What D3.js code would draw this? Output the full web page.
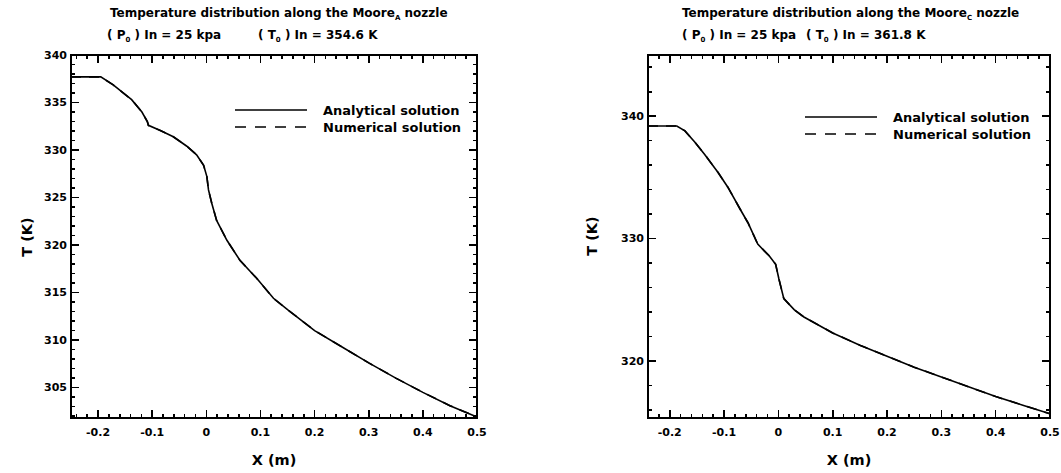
<!DOCTYPE html>
<html lang="en">
<head>
<meta charset="UTF-8">
<title>Temperature distribution along the Moore nozzles</title>
<script src="https://cdnjs.cloudflare.com/ajax/libs/d3/7.8.5/d3.min.js"></script>
<style>
  body { margin: 0; background: #fff; }
  svg { font-family: "DejaVu Sans", Arial, sans-serif; }
  text { font-weight: bold; fill: #000; }
  .ticklabel { font-size: 11px; }
  .title { font-size: 12px; }
  .sub { font-size: 12px; }
  .axis-label { font-size: 14.5px; }
  .legend text { font-size: 13px; }
  .tick-mark { stroke: #000; stroke-width: 1.6px; shape-rendering: crispEdges; }
</style>
</head>
<body>
<div id="chart"></div>
<script>
// tick labels
const xTicks = [-0.2, -0.1, 0, 0.1, 0.2, 0.3, 0.4, 0.5];
const yTicksA = [305, 310, 315, 320, 325, 330, 335, 340];
const yTicksB = [320, 330, 340];

// Moore A nozzle, analytical solution
const xA = [-0.25, -0.195, -0.172, -0.138, -0.119, -0.109, -0.107, -0.085, -0.061, -0.036,
            -0.018, -0.005, 0.001, 0.004, 0.010, 0.019, 0.038, 0.062, 0.093, 0.124,
            0.15, 0.2, 0.25, 0.3, 0.35, 0.4, 0.45, 0.5];
const tA = [337.7, 337.7, 336.85, 335.3, 334.0, 333.0, 332.6, 332.05, 331.4, 330.4,
            329.5, 328.4, 327.2, 325.8, 324.4, 322.6, 320.5, 318.4, 316.5, 314.4,
            313.2, 311.0, 309.3, 307.6, 306.0, 304.5, 303.1, 301.9];

// second nozzle, analytical solution
const xB = [-0.24, -0.187, -0.172, -0.154, -0.136, -0.111, -0.093, -0.069, -0.056, -0.038,
            -0.017, -0.005, 0.001, 0.010, 0.029, 0.047, 0.1, 0.15, 0.2, 0.25,
            0.3, 0.35, 0.4, 0.45, 0.5];
const tB = [339.2, 339.2, 338.8, 337.9, 336.9, 335.4, 334.2, 332.3, 331.3, 329.55,
            328.6, 327.9, 326.7, 325.1, 324.2, 323.6, 322.3, 321.3, 320.4, 319.5,
            318.7, 317.9, 317.1, 316.4, 315.7];

// numerical solution lies on top of the analytical curve in both plots
const xNumA = xA, tNumA = tA;
const xNumB = xB, tNumB = tB;

const seriesNames = ["Analytical solution", "Numerical solution"];

const svg = d3.select("#chart").append("svg")
    .attr("width", 1061)
    .attr("height", 473);

const fmt = d => d === 0 ? "0" : d3.format(".1f")(d).replace("\u2212", "-");

function drawPanel(p) {
    const g = svg.append("g");
    const x = d3.scaleLinear().domain(p.xDomain).range([p.left, p.right]);
    const y = d3.scaleLinear().domain(p.yDomain).range([p.bottom, p.top]);

    const eps = 1e-9;
    const xMinor = d3.range(-0.24, 0.5 + eps, 0.02).map(v => +v.toFixed(2))
        .filter(v => v >= p.xDomain[0] - eps && !xTicks.some(t => Math.abs(t - v) < eps));
    const yMinor = d3.range(Math.ceil(p.yDomain[0]), p.yDomain[1] + eps, p.yMinorStep)
        .filter(v => !p.yTicks.includes(v));

    // frame
    g.append("rect")
        .attr("x", p.left).attr("y", p.top)
        .attr("width", p.right - p.left).attr("height", p.bottom - p.top)
        .attr("fill", "none").attr("stroke", "#000").attr("stroke-width", 2);

    // inward ticks on all four sides
    const xt = xTicks.map(v => ({v, len: 8})).concat(xMinor.map(v => ({v, len: 4})));
    const yt = p.yTicks.map(v => ({v, len: 8})).concat(yMinor.map(v => ({v, len: 4})));
    const segs = [];
    xt.forEach(d => {
        const px = x(d.v);
        segs.push([px, p.bottom, px, p.bottom - d.len]);
        segs.push([px, p.top, px, p.top + d.len]);
    });
    yt.forEach(d => {
        const py = y(d.v);
        segs.push([p.left, py, p.left + d.len, py]);
        segs.push([p.right, py, p.right - d.len, py]);
    });
    g.selectAll("line.tick-mark").data(segs).join("line")
        .attr("class", "tick-mark")
        .attr("x1", d => d[0]).attr("y1", d => d[1])
        .attr("x2", d => d[2]).attr("y2", d => d[3]);

    g.selectAll("text.xlab").data(xTicks).join("text")
        .attr("class", "ticklabel xlab")
        .attr("x", d => x(d)).attr("y", p.bottom + 18)
        .attr("text-anchor", "middle")
        .text(fmt);
    g.selectAll("text.ylab").data(p.yTicks).join("text")
        .attr("class", "ticklabel ylab")
        .attr("x", p.left - 4).attr("y", d => y(d)).attr("dy", "0.35em")
        .attr("text-anchor", "end")
        .text(d => d);

    const line = d3.line().x(d => x(d[0])).y(d => y(d[1]));
    g.append("path")
        .datum(p.xs.map((v, i) => [v, p.ts[i]]))
        .attr("d", line)
        .attr("fill", "none").attr("stroke", "#000").attr("stroke-width", 1.6);
    g.append("path")
        .datum(p.xn.map((v, i) => [v, p.tn[i]]))
        .attr("d", line)
        .attr("fill", "none").attr("stroke", "#000").attr("stroke-width", 1.6)
        .attr("stroke-dasharray", "10,8");

    // titles
    const t = g.append("text").attr("class", "title").attr("x", p.titleX).attr("y", 17);
    t.append("tspan").text("Temperature distribution along the Moore");
    t.append("tspan").attr("dy", 3).style("font-size", "7px").text(p.sub);
    t.append("tspan").attr("dy", -3).text(" nozzle");

    const s1 = g.append("text").attr("class", "sub").attr("x", p.subX1).attr("y", 39);
    s1.append("tspan").text("( P");
    s1.append("tspan").attr("dy", 3).style("font-size", "7px").text("0");
    s1.append("tspan").attr("dy", -3).text(" ) In = 25 kpa");
    const s2 = g.append("text").attr("class", "sub").attr("x", p.subX2).attr("y", 39);
    s2.append("tspan").text("( T");
    s2.append("tspan").attr("dy", 3).style("font-size", "7px").text("0");
    s2.append("tspan").attr("dy", -3).text(` ) In = ${p.t0} K`);

    // axis labels
    g.append("text").attr("class", "axis-label")
        .attr("x", (p.left + p.right) / 2).attr("y", 465)
        .attr("text-anchor", "middle").text("X (m)");
    g.append("text").attr("class", "axis-label")
        .attr("transform", `translate(${p.yLabelX},${p.yLabelY}) rotate(-90)`)
        .attr("text-anchor", "middle").text("T (K)");

    // legend
    const lg = g.append("g").attr("class", "legend");
    seriesNames.forEach((name, i) => {
        const ly = p.legendY + i * 17;
        lg.append("line")
            .attr("x1", p.legendX).attr("x2", p.legendX + 72)
            .attr("y1", ly).attr("y2", ly)
            .attr("stroke", "#000").attr("stroke-width", 1.6)
            .attr("stroke-dasharray", i === 1 ? "11,9" : null);
        lg.append("text")
            .attr("x", p.legendX + 88).attr("y", ly).attr("dy", "0.35em")
            .text(name);
    });
}

drawPanel({
    left: 71, right: 477, top: 55, bottom: 418,
    xDomain: [-0.25, 0.5], yDomain: [301.8, 340],
    yTicks: yTicksA, yMinorStep: 1,
    xs: xA, ts: tA, xn: xNumA, tn: tNumA,
    sub: "A", t0: "354.6",
    titleX: 110, subX1: 107, subX2: 258,
    yLabelX: 32, yLabelY: 237,
    legendX: 235, legendY: 110
});

drawPanel({
    left: 648, right: 1050, top: 55, bottom: 418,
    xDomain: [-0.24, 0.5], yDomain: [315.35, 345],
    yTicks: yTicksB, yMinorStep: 2,
    xs: xB, ts: tB, xn: xNumB, tn: tNumB,
    sub: "C", t0: "361.8",
    titleX: 682, subX1: 682, subX2: 806,
    yLabelX: 597, yLabelY: 236,
    legendX: 805, legendY: 117
});
</script>
</body>
</html>
